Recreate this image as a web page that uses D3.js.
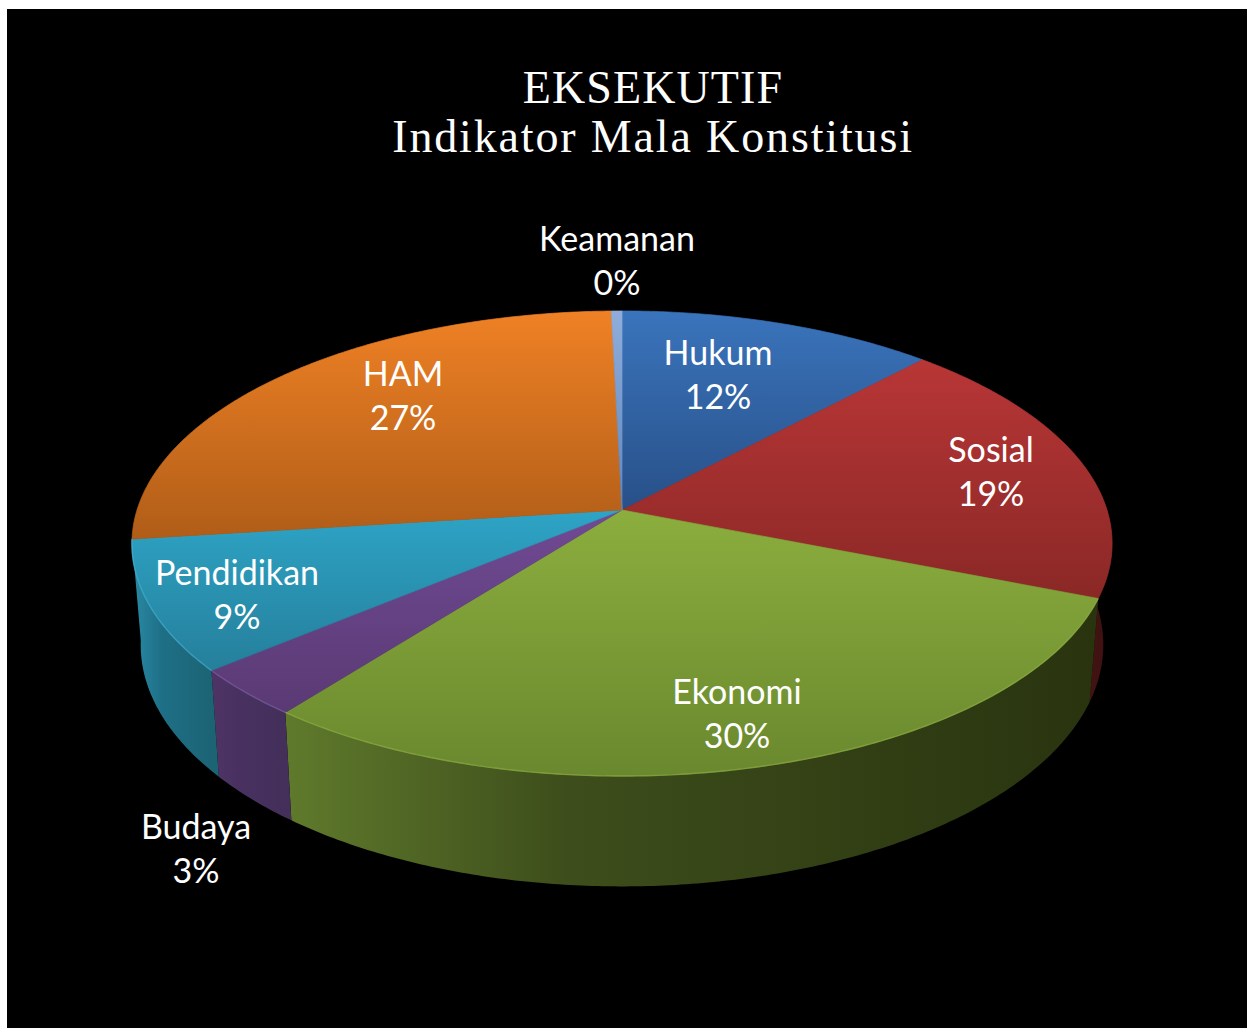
<!DOCTYPE html>
<html><head><meta charset="utf-8">
<script src="https://cdn.jsdelivr.net/npm/d3@7/dist/d3.min.js"></script>
<style>html,body{margin:0;padding:0;background:#fff;overflow:hidden}svg{display:block}</style>
</head><body><div id="c"></div>
<script>
const categories = ["Hukum","Sosial","Ekonomi","Budaya","Pendidikan","HAM","Keamanan"];
const shares     = [12.0, 19.0, 29.55, 3.4, 9.05, 26.6, 0.4];
const pctLabels  = ["12%","19%","30%","3%","9%","27%","0%"];
const titleLines = ["EKSEKUTIF","Indikator Mala Konstitusi"];

const topLight = ["#3a74bc","#b83636","#8bae3e","#704a94","#2ea4c6","#ef8125","#8fadda"];
const topDark  = ["#285088","#8a2826","#6a882e","#5a3a74","#257f9b","#b05d18","#5f87bf"];
const wallLeft = ["#1c3560","#4e1616","#5f7a2c","#4e3466","#2a8aa5","#a0551a","#5f87bf"];
const wallMid  = ["#1c3560","#461414","#3d4d1b","#483160","#1e6f86","#a0551a","#5f87bf"];
const wallRight= ["#1c3560","#3c1010","#29340f","#432f5a","#1c6272","#a0551a","#5f87bf"];
const rimColor = ["#4f86cc","#c44a4a","#94b648","#8464aa","#48b8d8","#f09040","#a0b8e0"];
const labelAt  = {Hukum:[718,365],Sosial:[991,462],Ekonomi:[737,704],Budaya:[196,839],
                  Pendidikan:[237,585],HAM:[403,386],Keamanan:[617,251]};
const titleSpacing = [1.1,1.85];

const W=1247,H=1028;
const persp=0.144;
const sx=a=>Math.sin(a)/(1+persp*Math.cos(a));
const sy=a=>-Math.cos(a)/(1+persp*Math.cos(a));
const xTop=d3.scaleLinear().domain([-1,1]).range([622-485,622+485]);
const yTop=d3.scaleLinear().domain([-1,1]).range([510-227.7,510+227.7]);
const xBot=d3.scaleLinear().domain([-1,1]).range([622-476.3,622+476.3]);
const yBot=d3.scaleLinear().domain([-1,1]).range([610-236.6,610+236.6]);

const svg=d3.select("#c").append("svg").attr("width",W).attr("height",H);
const defs=svg.append("defs");
svg.append("rect").attr("x",7).attr("y",9).attr("width",W-7).attr("height",H-9).attr("fill","#000");

const arcs=d3.pie().sort(null).value(d=>d)(shares);
const samples=(a0,a1)=>{const n=Math.max(2,Math.ceil((a1-a0)/0.01));return d3.range(n+1).map(i=>a0+(a1-a0)*i/n)};
const line=d3.line();
const topPt=a=>[xTop(sx(a)),yTop(sy(a))];
const botPt=a=>[xBot(sx(a)),yBot(sy(a))];

arcs.forEach((d,i)=>{
  const t=defs.append("linearGradient").attr("id","t"+i).attr("x1",0).attr("y1",0).attr("x2",0).attr("y2",1);
  t.append("stop").attr("offset",0).attr("stop-color",topLight[i]);
  t.append("stop").attr("offset",1).attr("stop-color",topDark[i]);
  const w=defs.append("linearGradient").attr("id","w"+i).attr("x1",0).attr("y1",0).attr("x2",1).attr("y2",0);
  w.append("stop").attr("offset",0).attr("stop-color",wallLeft[i]);
  w.append("stop").attr("offset",.35).attr("stop-color",wallMid[i]);
  w.append("stop").attr("offset",1).attr("stop-color",wallRight[i]);
});

// the wall runs round the front of the pie, ending where the HAM slice starts
const wallEnd=arcs[5].startAngle, wallStart=Math.PI*75/180;
const wallData=arcs.map((d,i)=>({i,s:samples(d.startAngle,d.endAngle).filter(a=>a>=wallStart-1e-9&&a<=wallEnd+1e-9)}))
  .filter(d=>d.s.length>1);
svg.append("g").selectAll("path").data(wallData).join("path")
  .attr("d",d=>line(d.s.map(topPt).concat(d.s.slice().reverse().map(botPt)))+"Z")
  .attr("fill",d=>`url(#w${d.i})`);

// top faces
svg.append("g").selectAll("path").data(arcs).join("path")
  .attr("d",d=>line([[xTop(0),yTop(0)]].concat(samples(d.startAngle,d.endAngle).map(topPt)))+"Z")
  .attr("fill",(d,i)=>`url(#t${i})`)
  .attr("stroke",(d,i)=>`url(#t${i})`).attr("stroke-width",.7);

// soft light rim on the front edge
svg.append("g").selectAll("path").data(wallData.filter(d=>d.i>=2)).join("path")
  .attr("d",d=>line(d.s.map(topPt)))
  .attr("fill","none").attr("stroke",d=>rimColor[d.i]).attr("stroke-width",1.4).attr("stroke-opacity",.6);

// title
svg.append("g").selectAll("text").data(titleLines).join("text")
  .attr("x",653).attr("y",(d,i)=>103+i*49)
  .attr("text-anchor","middle").attr("fill","#fff")
  .attr("font-family","'Liberation Serif',serif").attr("font-size",46)
  .attr("letter-spacing",(d,i)=>titleSpacing[i]).text(d=>d);

// data labels
const lab=svg.append("g").selectAll("g").data(categories).join("g")
  .attr("transform",d=>`translate(${labelAt[d][0]},${labelAt[d][1]})`)
  .attr("fill","#fff").attr("font-family","Lato,sans-serif").attr("font-size",34).attr("text-anchor","middle");
lab.append("text").text(d=>d);
lab.append("text").attr("y",44).text((d,i)=>pctLabels[i]);
</script></body></html>
